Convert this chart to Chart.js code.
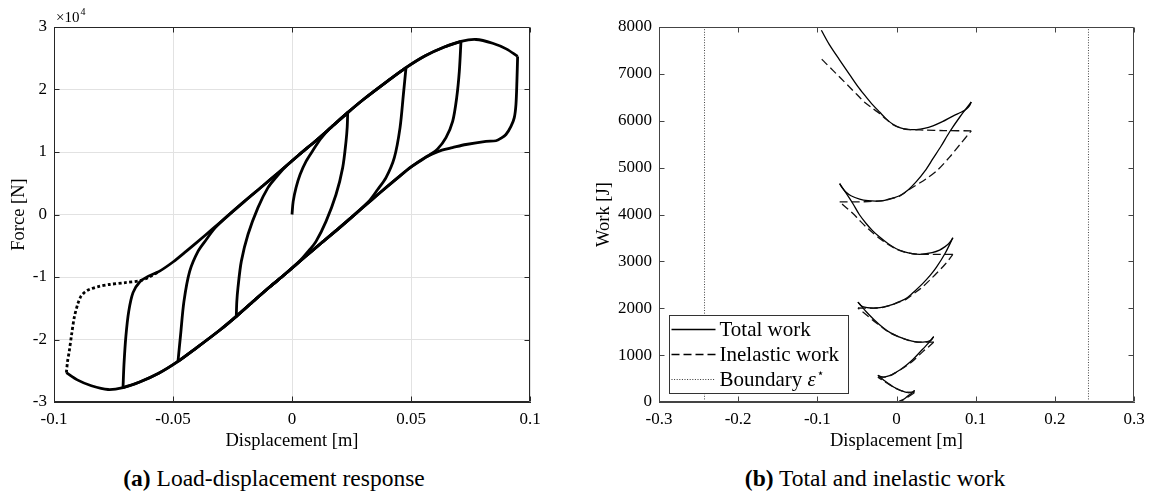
<!DOCTYPE html>
<html>
<head>
<meta charset="utf-8">
<script src="https://cdn.jsdelivr.net/npm/chart.js@4.4.1/dist/chart.umd.min.js"></script>
<style>
  html, body { margin: 0; padding: 0; background: #fff; }
  #wrap { position: relative; width: 1153px; height: 494px; overflow: hidden;
          font-family: "Liberation Serif", "Times New Roman", serif; }
  canvas { position: absolute; top: 0; }
  #forceChart { left: 0; }
  #workChart { left: 570px; }
  .cap { position: absolute; top: 465px; font-size: 23.5px; white-space: nowrap;
         transform: translateX(-50%); color: #000; line-height: 26px; }
</style>
</head>
<body>
<div id="wrap">
  <canvas id="forceChart" width="570" height="460" style="width:570px;height:460px"></canvas>
  <canvas id="workChart" width="583" height="460" style="width:583px;height:460px"></canvas>
  <div class="cap" style="left:274px"><b>(a)</b> Load-displacement response</div>
  <div class="cap" style="left:875px"><b>(b)</b> Total and inelastic work</div>
</div>
<script>
// ---------- Load-displacement branches: [displacement m, force N] ----------
const virginLoading = [[0,0],[0.0005,2100],[0.0017,4300],[0.0034,6400],[0.0059,8500],[0.0087,10200],[0.0120,12100],[0.0160,13800],[0.0234,16300]];
const unloading1 = [[0.0234,16300],[0.0232,14000],[0.0227,11700],[0.0213,7500],[0.0185,3200],[0.0143,-1100],[0.0101,-4300],[0.0066,-6000],[0.0031,-7500],[-0.0031,-9600],[-0.0094,-11600],[-0.0160,-13800],[-0.0234,-16300]];
const reloading1 = [[-0.0234,-16300],[-0.0232,-14000],[-0.0227,-11700],[-0.0213,-7500],[-0.0185,-3200],[-0.0143,1100],[-0.0101,4300],[-0.0066,6000],[-0.0031,7500],[0.0031,9600],[0.0094,11600],[0.0160,13800],[0.0234,16300],[0.0300,18400],[0.0400,21300],[0.0479,23500]];
const unloading2 = [[0.0479,23500],[0.0468,19200],[0.0454,13900],[0.0430,9100],[0.0395,5900],[0.0360,4000],[0.0320,2000],[0.0200,-2100],[0.0122,-4600],[0.0054,-6800],[-0.0031,-9600],[-0.0094,-11600],[-0.0160,-13800],[-0.0234,-16300],[-0.0300,-18400],[-0.0400,-21300],[-0.0479,-23500]];
const reloading2 = [[-0.0479,-23500],[-0.0468,-19200],[-0.0454,-13900],[-0.0430,-9100],[-0.0395,-5900],[-0.0360,-4000],[-0.0320,-2000],[-0.0200,2100],[-0.0122,4600],[-0.0054,6800],[0.0031,9600],[0.0094,11600],[0.0160,13800],[0.0234,16300],[0.0300,18400],[0.0400,21300],[0.0479,23500],[0.0560,25400],[0.0640,26800],[0.0710,27700]];
const unloading3 = [[0.0710,27700],[0.0703,22900],[0.0692,18700],[0.0675,14900],[0.0647,12300],[0.0612,10500],[0.0577,9500],[0.0500,7600],[0.0445,5900],[0.0367,3400],[0.0300,1200],[0.0200,-2100],[0.0122,-4600],[0.0054,-6800],[-0.0031,-9600],[-0.0094,-11600],[-0.0160,-13800],[-0.0234,-16300],[-0.0300,-18400],[-0.0400,-21300],[-0.0479,-23500],[-0.0560,-25400],[-0.0640,-26800],[-0.0710,-27700]];
const reloading3 = [[-0.0710,-27700],[-0.0706,-24000],[-0.0698,-19500],[-0.0686,-15500],[-0.0668,-12500],[-0.0640,-10800],[-0.0605,-9900],[-0.0558,-9100],[-0.0500,-7600],[-0.0445,-5900],[-0.0367,-3400],[-0.0300,-1200],[-0.0200,2100],[-0.0122,4600],[-0.0054,6800],[0.0031,9600],[0.0094,11600],[0.0160,13800],[0.0234,16300],[0.0300,18400],[0.0400,21300],[0.0479,23500],[0.0560,25400],[0.0640,26800],[0.0710,27700],[0.0773,28000],[0.0843,27400],[0.0900,26500],[0.0948,25300]];
const unloading4 = [[0.0948,25300],[0.0945,21300],[0.0941,17600],[0.0934,15500],[0.0920,14100],[0.0899,12800],[0.0878,12200],[0.0857,11800],[0.0815,11700],[0.0731,11200],[0.0674,10700],[0.0630,10300],[0.0590,9700],[0.0558,9100],[0.0500,7600],[0.0445,5900],[0.0367,3400],[0.0300,1200],[0.0200,-2100],[0.0122,-4600],[0.0054,-6800],[-0.0031,-9600],[-0.0094,-11600],[-0.0160,-13800],[-0.0234,-16300],[-0.0300,-18400],[-0.0400,-21300],[-0.0479,-23500],[-0.0560,-25400],[-0.0640,-26800],[-0.0710,-27700],[-0.0773,-28000],[-0.0843,-27400],[-0.0900,-26500],[-0.0948,-25300]];
const finalReloading = [[-0.0948,-25300],[-0.0943,-23500],[-0.0936,-21900],[-0.0926,-19200],[-0.0915,-16500],[-0.0900,-14300],[-0.0887,-13100],[-0.0870,-12400],[-0.0852,-12000],[-0.0810,-11500],[-0.0768,-11200],[-0.0700,-10900],[-0.0640,-10600],[-0.0600,-10000],[-0.0558,-9100]];

// ---------- Work branches: [displacement m, work J] ----------
const totalWork1 = [[0,0],[0.003,10],[0.006,33],[0.009,60],[0.012,96],[0.016,148],[0.0229,245]];
const totalWork2 = [[0.0229,245],[0.021,218],[0.018,206],[0.0154,203],[0.0101,217],[0.0066,237],[0.0031,262],[-0.0031,315],[-0.0094,385],[-0.016,465],[-0.0235,570]];
const totalWork3 = [[-0.0235,570],[-0.0205,545],[-0.0165,532],[-0.012,545],[-0.006,580],[0.000,640],[0.006,705],[0.0135,800],[0.0207,905],[0.0333,1130],[0.040,1250],[0.047,1395]];
const totalWork4 = [[0.047,1395],[0.0445,1335],[0.041,1298],[0.036,1282],[0.030,1278],[0.025,1282],[0.015,1318],[0.004,1385],[-0.0075,1475],[-0.0172,1590],[-0.028,1750],[-0.0382,1925],[-0.0487,2132]];
const totalWork5 = [[-0.0487,2132],[-0.045,2060],[-0.0403,2022],[-0.0325,2005],[-0.0255,2005],[-0.017,2022],[-0.0087,2060],[0.000,2115],[0.0124,2210],[0.0233,2370],[0.0333,2530],[0.0425,2700],[0.0503,2870],[0.062,3190],[0.0712,3505]];
const totalWork6 = [[0.0712,3505],[0.069,3440],[0.0655,3370],[0.061,3310],[0.0544,3240],[0.045,3185],[0.0355,3158],[0.0292,3150],[0.020,3165],[0.010,3205],[-0.0003,3270],[-0.0105,3375],[-0.0213,3518],[-0.030,3650],[-0.0381,3803],[-0.047,4000],[-0.055,4230],[-0.063,4440],[-0.0718,4657]];
const totalWork7 = [[-0.0718,4657],[-0.069,4580],[-0.064,4480],[-0.0575,4400],[-0.0466,4330],[-0.036,4295],[-0.0255,4285],[-0.015,4300],[-0.005,4350],[0.0039,4400],[0.015,4530],[0.025,4700],[0.036,4930],[0.046,5190],[0.056,5450],[0.067,5760],[0.080,6080],[0.0944,6400]];
const totalWork8 = [[0.0944,6400],[0.0925,6330],[0.089,6260],[0.085,6210],[0.080,6170],[0.0712,6100],[0.058,5980],[0.046,5890],[0.035,5835],[0.025,5812],[0.015,5815],[0.005,5850],[-0.005,5930],[-0.013,6040],[-0.021,6180],[-0.030,6340],[-0.038,6500],[-0.047,6690],[-0.059,6980],[-0.072,7300],[-0.085,7630],[-0.0949,7930]];

const inelasticWork1 = [[0,0],[0.003,8],[0.006,26],[0.009,48],[0.012,78],[0.016,122],[0.0229,203]];
const inelasticWork2 = [[0.0229,203],[0.0185,204],[0.0154,203],[0.0101,217],[0.0066,236],[0.0031,260],[-0.0031,310],[-0.0094,375],[-0.016,445],[-0.0235,530]];
const inelasticWork3 = [[-0.0235,530],[-0.0165,530],[-0.012,543],[-0.006,577],[0.000,635],[0.006,697],[0.0135,785],[0.0207,875],[0.0333,1075],[0.040,1170],[0.047,1278]];
const inelasticWork4 = [[0.047,1278],[0.036,1278],[0.030,1277],[0.025,1280],[0.015,1316],[0.004,1382],[-0.0075,1470],[-0.0172,1580],[-0.028,1720],[-0.0382,1860],[-0.0487,2005]];
const inelasticWork5 = [[-0.0487,2005],[-0.0325,2004],[-0.0255,2005],[-0.017,2020],[-0.0087,2057],[0.000,2108],[0.0124,2195],[0.0233,2330],[0.0333,2460],[0.0425,2610],[0.0503,2740],[0.062,2950],[0.0712,3150]];
const inelasticWork6 = [[0.0712,3150],[0.045,3150],[0.0355,3152],[0.0292,3150],[0.020,3163],[0.010,3200],[-0.0003,3262],[-0.0105,3360],[-0.0213,3490],[-0.030,3610],[-0.0381,3730],[-0.047,3880],[-0.055,4020],[-0.063,4140],[-0.0718,4268]];
const inelasticWork7 = [[-0.0718,4268],[-0.0466,4270],[-0.036,4275],[-0.0255,4283],[-0.015,4297],[-0.005,4345],[0.0039,4393],[0.0166,4540],[0.0376,4763],[0.052,4950],[0.067,5224],[0.080,5490],[0.0944,5785]];
const inelasticWork8 = [[0.0944,5785],[0.060,5790],[0.035,5800],[0.025,5808],[0.015,5812],[0.005,5845],[-0.005,5920],[-0.013,6030],[-0.021,6150],[-0.030,6260],[-0.040,6390],[-0.050,6560],[-0.060,6730],[-0.070,6900],[-0.080,7070],[-0.0908,7250],[-0.0949,7320]];

const boundaryStrain = 0.2425;   // boundary displacement epsilon*
const workRange = [0, 8000];

// ---------- Axis ticks ----------
const dispTicksA = [-0.1, -0.05, 0, 0.05, 0.1];
const forceTicks = [-30000, -20000, -10000, 0, 10000, 20000, 30000];
const dispTicksB = [-0.3, -0.2, -0.1, 0, 0.1, 0.2, 0.3];
const workTicks = [0, 1000, 2000, 3000, 4000, 5000, 6000, 7000, 8000];

const SERIF = "'Liberation Serif', 'Times New Roman', serif";
const AXIS_COLOR = '#262626';

const toXY = arr => arr.map(([x, y]) => ({ x, y }));
const fmtNum = v => {
  const r = Math.round(v * 1000) / 1000;
  return r === 0 ? '0' : String(r);
};

// Box around the plot area with inward tick marks on all four sides
const boxTicks = {
  id: 'boxTicks',
  afterDatasetsDraw(chart, args, opts) {
    const { ctx, chartArea: a, scales: { x, y } } = chart;
    const L = Math.round(a.left) + 0.5, R = Math.round(a.right) - 0.5;
    const T = Math.round(a.top) + 0.5, B = Math.round(a.bottom) - 0.5;
    ctx.save();
    ctx.strokeStyle = opts.color || AXIS_COLOR;
    ctx.lineWidth = 1;
    ctx.beginPath();
    ctx.rect(L, T, R - L, B - T);
    const len = opts.len || 5;
    x.ticks.forEach(t => {
      const px = Math.round(x.getPixelForValue(t.value)) + 0.5;
      ctx.moveTo(px, B); ctx.lineTo(px, B - len);
      ctx.moveTo(px, T); ctx.lineTo(px, T + len);
    });
    y.ticks.forEach(t => {
      const py = Math.round(y.getPixelForValue(t.value)) + 0.5;
      ctx.moveTo(L, py); ctx.lineTo(L + len, py);
      ctx.moveTo(R, py); ctx.lineTo(R - len, py);
    });
    ctx.stroke();
    ctx.restore();
  }
};

// Exponent label above the force axis
const exponentLabel = {
  id: 'exponentLabel',
  afterDraw(chart) {
    const { ctx, chartArea: a } = chart;
    ctx.save();
    ctx.fillStyle = '#000';
    ctx.textBaseline = 'alphabetic';
    ctx.font = `15px ${SERIF}`;
    const base = a.top - 5;
    ctx.fillText('\u00d710', a.left + 2, base);
    const w = ctx.measureText('\u00d710').width;
    ctx.font = `10px ${SERIF}`;
    ctx.fillText('4', a.left + 2 + w + 1, base - 7);
    ctx.restore();
  }
};

// Legend box in the lower-left corner of the work plot
const workLegend = {
  id: 'workLegend',
  afterDraw(chart) {
    const { ctx, chartArea: a } = chart;
    const left = a.left + 10.5, right = a.left + 189.5;
    const bottom = a.bottom - 8.5, top = bottom - 78;
    ctx.save();
    ctx.fillStyle = '#fff';
    ctx.fillRect(left, top, right - left, bottom - top);
    ctx.strokeStyle = '#333';
    ctx.lineWidth = 1;
    ctx.strokeRect(left, top, right - left, bottom - top);
    const rows = [
      { dash: [], width: 1.4, color: '#000', label: 'Total work' },
      { dash: [8, 4], width: 1.4, color: '#000', label: 'Inelastic work' },
      { dash: [1, 1.6], width: 1, color: '#333', label: 'Boundary ' }
    ];
    rows.forEach((r, i) => {
      const yy = Math.round(top + 13.5 + i * 25) + 0.5;
      ctx.beginPath();
      ctx.setLineDash(r.dash);
      ctx.lineWidth = r.width;
      ctx.strokeStyle = r.color;
      ctx.moveTo(left + 2, yy);
      ctx.lineTo(left + 46, yy);
      ctx.stroke();
      ctx.setLineDash([]);
      ctx.fillStyle = '#000';
      ctx.textBaseline = 'middle';
      ctx.font = `21px ${SERIF}`;
      const tx = left + 50;
      ctx.fillText(r.label, tx, yy + 1);
      if (i === 2) {
        const w = ctx.measureText(r.label).width;
        ctx.font = `italic 21px ${SERIF}`;
        ctx.fillText('\u03b5', tx + w, yy + 1);
        const we = ctx.measureText('\u03b5').width;
        ctx.font = `12px 'DejaVu Sans', sans-serif`;
        ctx.fillText('\u22c6', tx + w + we + 1, yy - 6);
      }
    });
    ctx.restore();
  }
};

const tickFont = { family: SERIF, size: 17 };
const titleFont = { family: SERIF, size: 18.5 };

// ---------- (a) Load-displacement response ----------
const forceBranches = [virginLoading, unloading1, reloading1, unloading2, reloading2, unloading3, reloading3, unloading4];
const forceDatasets = forceBranches.map(b => ({
  data: toXY(b), borderColor: '#000', borderWidth: 2.8, pointRadius: 0,
  showLine: true, tension: 0.3, fill: false
}));
forceDatasets.push({
  data: toXY(finalReloading), borderColor: '#000', borderWidth: 2.8, pointRadius: 0,
  showLine: true, tension: 0.3, fill: false, borderDash: [3, 2.4]
});

new Chart(document.getElementById('forceChart'), {
  type: 'scatter',
  data: { datasets: forceDatasets },
  options: {
    responsive: false, animation: false, events: [],
    layout: { padding: { left: 0, top: 27, right: 40, bottom: 0 } },
    plugins: { legend: { display: false }, tooltip: { enabled: false }, boxTicks: { color: AXIS_COLOR, len: 5 } },
    scales: {
      x: {
        type: 'linear', min: -0.1, max: 0.1,
        afterBuildTicks: s => { s.ticks = dispTicksA.map(v => ({ value: v })); },
        afterFit: s => { s.height = 58; },
        ticks: { callback: v => fmtNum(v), font: tickFont, color: '#000', padding: 7, maxRotation: 0 },
        grid: { color: '#e2e2e2', lineWidth: 1, drawTicks: false },
        border: { color: AXIS_COLOR },
        title: { display: true, text: 'Displacement [m]', font: titleFont, color: '#000', padding: { top: 0, bottom: 8 } }
      },
      y: {
        type: 'linear', min: -30000, max: 30000,
        afterBuildTicks: s => { s.ticks = forceTicks.map(v => ({ value: v })); },
        afterFit: s => { s.width = 54; },
        ticks: { callback: v => String(Math.round(v / 10000)), font: tickFont, color: '#000', padding: 7 },
        grid: { color: '#e2e2e2', lineWidth: 1, drawTicks: false },
        border: { color: AXIS_COLOR },
        title: { display: true, text: 'Force [N]', font: titleFont, color: '#000', padding: { top: 8, bottom: 0 } }
      }
    }
  },
  plugins: [boxTicks, exponentLabel]
});

// ---------- (b) Total and inelastic work ----------
const totalBranches = [totalWork1, totalWork2, totalWork3, totalWork4, totalWork5, totalWork6, totalWork7, totalWork8];
const inelasticBranches = [inelasticWork1, inelasticWork2, inelasticWork3, inelasticWork4, inelasticWork5, inelasticWork6, inelasticWork7, inelasticWork8];
const workDatasets = [];
inelasticBranches.forEach(b => workDatasets.push({
  label: 'Inelastic work', data: toXY(b), borderColor: '#111', borderWidth: 1.3, pointRadius: 0,
  showLine: true, tension: 0.3, borderDash: [8, 4], fill: false
}));
totalBranches.forEach(b => workDatasets.push({
  label: 'Total work', data: toXY(b), borderColor: '#000', borderWidth: 1.3, pointRadius: 0,
  showLine: true, tension: 0.3, fill: false
}));
[-boundaryStrain, boundaryStrain].forEach(bx => workDatasets.push({
  label: 'Boundary', data: workRange.map(w => ({ x: bx, y: w })), borderColor: '#444', borderWidth: 1,
  pointRadius: 0, showLine: true, borderDash: [1, 1.6], fill: false
}));

new Chart(document.getElementById('workChart'), {
  type: 'scatter',
  data: { datasets: workDatasets },
  options: {
    responsive: false, animation: false, events: [],
    layout: { padding: { left: 0, top: 27, right: 19, bottom: 0 } },
    plugins: { legend: { display: false }, tooltip: { enabled: false }, boxTicks: { color: '#444', len: 5 } },
    scales: {
      x: {
        type: 'linear', min: -0.3, max: 0.3,
        afterBuildTicks: s => { s.ticks = dispTicksB.map(v => ({ value: v })); },
        afterFit: s => { s.height = 58; },
        ticks: { callback: v => fmtNum(v), font: tickFont, color: '#000', padding: 7, maxRotation: 0 },
        grid: { display: false, drawTicks: false },
        border: { color: '#444' },
        title: { display: true, text: 'Displacement [m]', font: titleFont, color: '#000', padding: { top: 0, bottom: 8 } }
      },
      y: {
        type: 'linear', min: workRange[0], max: workRange[1],
        afterBuildTicks: s => { s.ticks = workTicks.map(v => ({ value: v })); },
        afterFit: s => { s.width = 89; },
        ticks: { callback: v => String(v), font: tickFont, color: '#000', padding: 7 },
        grid: { display: false, drawTicks: false },
        border: { color: '#444' },
        title: { display: true, text: 'Work [J]', font: titleFont, color: '#000', padding: { top: 23, bottom: 0 } }
      }
    }
  },
  plugins: [boxTicks, workLegend]
});
</script>
</body>
</html>
